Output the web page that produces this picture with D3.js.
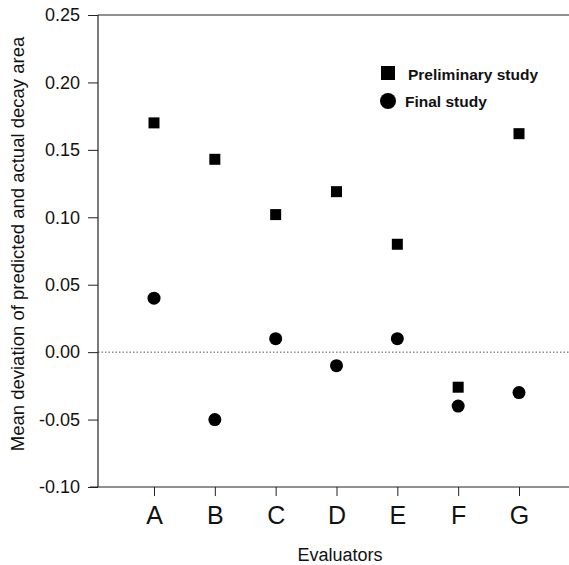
<!DOCTYPE html>
<html>
<head>
<meta charset="utf-8">
<script src="https://cdn.jsdelivr.net/npm/d3@7"></script>
<style>
  body { margin: 0; background: #fff; }
  text { font-family: "Liberation Sans", Arial, sans-serif; fill: #111; }
</style>
</head>
<body>
<div id="chart"></div>
<script>
const evaluators = ["A", "B", "C", "D", "E", "F", "G"];
const preliminary = [0.170, 0.143, 0.102, 0.119, 0.080, -0.026, 0.162];
const final_study = [0.040, -0.050, 0.010, -0.010, 0.010, -0.040, -0.030];
const y_ticks = [-0.10, -0.05, 0.00, 0.05, 0.10, 0.15, 0.20, 0.25];

const width = 569, height = 565;
const plot = { left: 98, right: 569, top: 15, bottom: 487 };

const svg = d3.select("#chart").append("svg")
  .attr("width", width)
  .attr("height", height);

const x_scale = d3.scalePoint()
  .domain(evaluators)
  .range([154, 519]);
const y_scale = d3.scaleLinear()
  .domain([-0.10, 0.25])
  .range([plot.bottom, plot.top]);

// frame: top and bottom lines run to the right edge, no right border
svg.append("line")
  .attr("x1", plot.left).attr("x2", plot.right)
  .attr("y1", plot.top).attr("y2", plot.top)
  .style("stroke", "#222").style("stroke-width", 1.2);

// zero reference line
svg.append("line")
  .attr("x1", plot.left).attr("x2", plot.right)
  .attr("y1", y_scale(0)).attr("y2", y_scale(0))
  .style("stroke", "#555").style("stroke-width", 1)
  .style("stroke-dasharray", "1.5,2");

// y axis
const y_axis = svg.append("g")
  .attr("transform", "translate(" + plot.left + ",0)")
  .call(d3.axisLeft(y_scale).tickValues(y_ticks).tickSize(10).tickPadding(8));
y_axis.select(".domain").attr("d", "M0," + plot.top + "V" + plot.bottom).style("stroke", "#222").style("stroke-width", 1.2);
y_axis.selectAll(".tick line").style("stroke", "#222");
y_axis.selectAll(".tick text")
  .text(d => d3.format(".2f")(d).replace("−", "-"))
  .style("font-size", "18px")
  .style("font-family", "'Liberation Sans', Arial, sans-serif");

// x axis
const x_axis = svg.append("g")
  .attr("transform", "translate(0," + plot.bottom + ")")
  .call(d3.axisBottom(x_scale).tickSize(9).tickPadding(10));
x_axis.select(".domain").attr("d", "M" + (plot.left - 8) + ",0H" + plot.right).style("stroke", "#222").style("stroke-width", 1.2);
x_axis.selectAll(".tick line").style("stroke", "#222");
x_axis.selectAll(".tick text")
  .style("font-size", "25px")
  .style("font-family", "'Liberation Sans', Arial, sans-serif");

// axis titles
svg.append("text")
  .attr("x", 340).attr("y", 561)
  .attr("text-anchor", "middle")
  .style("font-size", "18px")
  .text("Evaluators");

svg.append("text")
  .attr("transform", "translate(24,244) rotate(-90)")
  .attr("text-anchor", "middle")
  .style("font-size", "18.5px")
  .text("Mean deviation of predicted and actual decay area");

// points
svg.append("g").selectAll("rect")
  .data(evaluators)
  .join("rect")
  .attr("x", (d) => x_scale(d) - 5.5)
  .attr("y", (d, i) => y_scale(preliminary[i]) - 5.5)
  .attr("width", 11).attr("height", 11)
  .style("fill", "#000");

svg.append("g").selectAll("circle")
  .data(evaluators)
  .join("circle")
  .attr("cx", (d) => x_scale(d))
  .attr("cy", (d, i) => y_scale(final_study[i]))
  .attr("r", 6.5)
  .style("fill", "#000");

// legend
const legend = svg.append("g");
legend.append("rect")
  .attr("x", 381).attr("y", 66).attr("width", 14).attr("height", 14)
  .style("fill", "#000");
legend.append("text")
  .attr("x", 408).attr("y", 80)
  .style("font-size", "15.5px").style("font-weight", "bold")
  .text("Preliminary study");
legend.append("circle")
  .attr("cx", 388).attr("cy", 101).attr("r", 8)
  .style("fill", "#000");
legend.append("text")
  .attr("x", 405).attr("y", 107)
  .style("font-size", "15.5px").style("font-weight", "bold")
  .text("Final study");
</script>
</body>
</html>
